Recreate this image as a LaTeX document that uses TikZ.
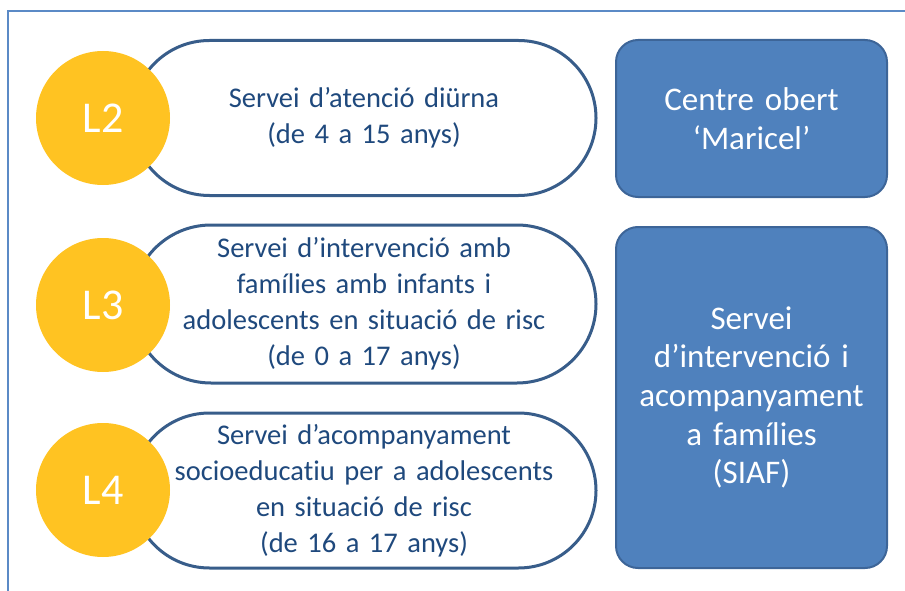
\documentclass[tikz,border=0pt]{standalone}
\usepackage{fontspec}
\setmainfont{Carlito}[Ligatures=NoCommon, WordSpace=0.85]
\usepackage{xcolor}
\usepackage{tikz}
\definecolor{marc}{HTML}{5B8AC6}
\definecolor{vora}{HTML}{385D8A}
\definecolor{lletra}{HTML}{1F497D}
\definecolor{groc}{HTML}{FFC322}
\definecolor{blau}{HTML}{4F81BD}
\definecolor{vorablau}{HTML}{3D6598}

\begin{document}
\begin{tikzpicture}[x=1pt,y=-1pt,
		servei/.style={draw=vora, line width=3pt, fill=white, rounded corners=77.5pt,
			minimum width=464pt, minimum height=155pt, text width=440pt, align=center,
			text=lletra, font=\fontsize{28.5pt}{36pt}\selectfont},
		linia/.style={circle, fill=groc, minimum size=134pt, inner sep=0pt,
			text=white, font=\fontsize{44pt}{50pt}\selectfont},
		centre/.style={draw=vorablau, line width=2pt, fill=blau, rounded corners=22pt,
			minimum width=271pt, text width=260pt, align=center,
			text=white, font=\fontsize{33pt}{38.7pt}\selectfont}]
		\useasboundingbox (0,0) rectangle (905,591);
		\draw[marc, line width=2.5pt] (8,591) -- (8,11) -- (905,11);
		\node[servei] (s2) at (364,118) {Servei d’atenció diürna\\(de 4 a 15 anys)};
		\node[servei, minimum height=158pt, rounded corners=79pt] (s3) at (364,304)
			{Servei d’intervenció amb\\famílies amb infants i\\adolescents en situació de risc\\(de 0 a 17 anys)};
		\node[servei] (s4) at (364,490.5)
			{Servei d’acompanyament\\socioeducatiu per a adolescents\\en situació de risc\\(de 16 a 17 anys)};
		\node[linia] (l2) at (103,118) {L2};
		\node[linia] (l3) at (103,305) {L3};
		\node[linia] (l4) at (103,490) {L4};
		\node[centre, minimum height=157pt] (cobert) at (751.5,118.5) {Centre obert\\‘Maricel’};
		\node[centre, minimum height=341pt] (siaf) at (751.5,397.5)
			{Servei\\d’intervenció i\\acompanyament\\a famílies\\(SIAF)};
	\end{tikzpicture}
\end{document}
